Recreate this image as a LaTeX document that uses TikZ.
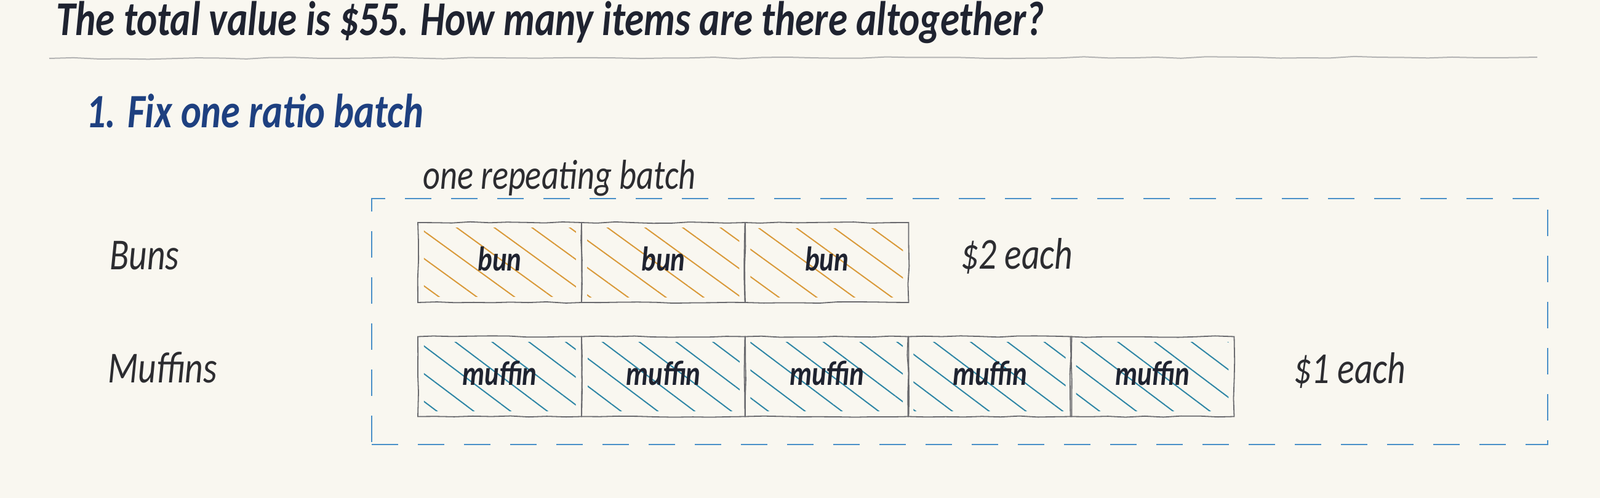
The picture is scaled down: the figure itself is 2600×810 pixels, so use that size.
\documentclass[tikz,border=0pt]{standalone}
\usepackage{fontspec}
\usepackage{tikz}
\usetikzlibrary{positioning,patterns.meta,decorations.pathmorphing}
\newfontfamily\hand{Carlito}[FakeStretch=0.8]
\definecolor{paper}{HTML}{F9F7F0}
\definecolor{ink}{HTML}{1F2330}
\definecolor{softink}{HTML}{2C2C30}
\definecolor{headblue}{HTML}{1E4080}
\definecolor{dashblue}{HTML}{4A90C8}
\definecolor{bunhatch}{HTML}{D99A3A}
\definecolor{mufhatch}{HTML}{2F86A6}
\definecolor{rule}{HTML}{B4B4B4}
\definecolor{edge}{HTML}{6A6A6E}

\begin{document}
\begin{tikzpicture}[x=1pt, y=-1pt,
  txt/.style={anchor=base west, inner sep=0pt, text=softink, font=\hand\itshape\fontsize{72}{76}\selectfont},
  cell/.style={draw=edge, line width=1.8pt, minimum width=266pt, minimum height=130pt, inner sep=0pt,
    text=ink, font=\hand\bfseries\itshape\fontsize{56}{60}\selectfont,
    decorate, decoration={random steps, segment length=30pt, amplitude=1.2pt}},
  bun/.style={cell, path picture={\fill[pattern={Lines[angle=-36, distance=36pt, line width=2pt]}, pattern color=bunhatch]
    ([xshift=10pt,yshift=-10pt]path picture bounding box.north west) rectangle ([xshift=-10pt,yshift=10pt]path picture bounding box.south east);}},
  muffin/.style={cell, path picture={\fill[pattern={Lines[angle=-37, distance=36pt, line width=2pt]}, pattern color=mufhatch]
    ([xshift=10pt,yshift=-10pt]path picture bounding box.north west) rectangle ([xshift=-10pt,yshift=10pt]path picture bounding box.south east);}}]
  \fill[paper] (0,0) rectangle (2600,810);
  \useasboundingbox (0,0) rectangle (2600,810);

  % Heading and rule
  \node[txt, text=ink, font=\hand\bfseries\itshape\fontsize{79}{84}\selectfont] (question) at (91,58)
    {The total value is \$55. How many items are there altogether?};
  \coordinate (ruleL) at (80,95);
  \coordinate (ruleR) at (2498,93);
  \draw[rule, line width=2pt, decorate, decoration={random steps, segment length=40pt, amplitude=1.5pt}] (ruleL) -- (ruleR);

  % Step title
  \node[txt, text=headblue, font=\hand\bfseries\itshape\fontsize{78}{82}\selectfont] (step1) at (140,208) {1. Fix one ratio batch};

  % Batch frame
  \node[draw=dashblue, line width=2pt, dash pattern=on 43pt off 32pt, minimum width=1911pt, minimum height=400pt,
    inner sep=0pt] (batch) at (1559.5,523) {};
  \node[txt, font=\hand\itshape\fontsize{68}{72}\selectfont] (batchlbl) at (687,308) {one repeating batch};

  % Row 1: buns at $2
  \node[txt] (bunslbl) at (178,438) {Buns};
  \node[bun] (b1) at (812,427) {\raisebox{12pt}{bun}\hspace{20pt}};
  \node[bun] (b2) at (1078,427) {\raisebox{12pt}{bun}\hspace{20pt}};
  \node[bun] (b3) at (1343.5,427) {\raisebox{12pt}{bun}\hspace{20pt}};
  \node[txt] (bunprice) at (1561,437) {\$2 each};

  % Row 2: muffins at $1
  \node[muffin] (m1) at (812,612.5) {\raisebox{12pt}{muffin}\hspace{40pt}};
  \node[muffin] (m2) at (1078,612.5) {\raisebox{12pt}{muffin}\hspace{40pt}};
  \node[muffin] (m3) at (1343.5,612.5) {\raisebox{12pt}{muffin}\hspace{40pt}};
  \node[muffin] (m4) at (1608.5,612.5) {\raisebox{12pt}{muffin}\hspace{40pt}};
  \node[muffin] (m5) at (1872.5,612.5) {\raisebox{12pt}{muffin}\hspace{40pt}};
  \node[txt] (muflbl) at (175,622) {Muffins};
  \node[txt] (mufprice) at (2102,623) {\$1 each};
\end{tikzpicture}
\end{document}
